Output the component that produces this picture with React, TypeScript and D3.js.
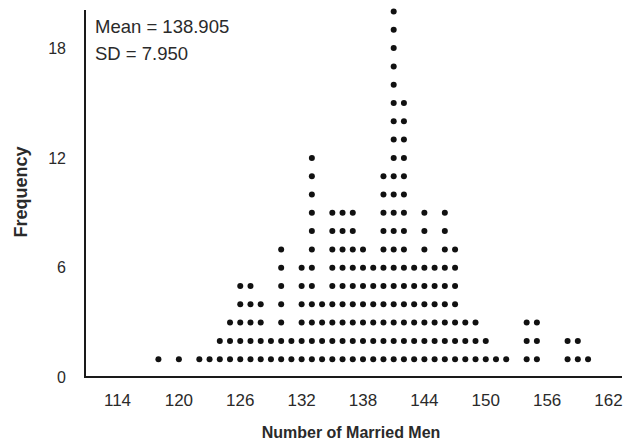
import React from "react";
import * as d3 from "d3";

// Number of married men (x) and frequency (count of dots) per value
const values = [118, 120, 122, 123, 124, 125, 126, 127, 128, 129, 130, 131, 132, 133, 134, 135, 136, 137, 138, 139, 140, 141, 142, 143, 144, 145, 146, 147, 148, 149, 150, 151, 152, 154, 155, 158, 159, 160];
const counts = [1, 1, 1, 1, 2, 3, 5, 5, 4, 2, 7, 2, 6, 12, 4, 9, 9, 9, 7, 6, 11, 20, 15, 6, 9, 6, 9, 7, 3, 3, 2, 1, 1, 3, 3, 2, 2, 1];
const xTicks = [114, 120, 126, 132, 138, 144, 150, 156, 162];
const yTicks = [0, 6, 12, 18];
const statLines = ["Mean = 138.905", "SD = 7.950"];

const W = 634;
const H = 443;

export default function App() {
  const x = d3.scaleLinear().domain([114, 162]).range([117.5, 608.5]);
  const y = d3.scaleLinear().domain([0, 20]).range([377.5, 11.5]);

  const dots: { v: number; k: number }[] = [];
  values.forEach((v, i) => {
    d3.range(1, counts[i] + 1).forEach((k) => dots.push({ v, k }));
  });

  const font = "'Liberation Sans', Arial, Helvetica, sans-serif";
  const textColor = "#2a2a2a";

  return (
    <div style={{ position: "absolute", left: 0, top: 0 }}>
      <svg width={W} height={H} style={{ display: "block", background: "#fff" }}>
        {/* axes */}
        <line x1={85} x2={85} y1={10} y2={378} stroke="#1a1a1a" strokeWidth={2} />
        <line x1={84} x2={622} y1={377} y2={377} stroke="#1a1a1a" strokeWidth={2} />

        {/* y tick labels */}
        {yTicks.map((t) => (
          <text
            key={"y" + t}
            x={66}
            y={y(t)}
            dy="0.36em"
            textAnchor="end"
            fontFamily={font}
            fontSize={16}
            fill={textColor}
          >
            {t}
          </text>
        ))}

        {/* x tick labels */}
        {xTicks.map((t) => (
          <text
            key={"x" + t}
            x={x(t)}
            y={405.5}
            textAnchor="middle"
            fontFamily={font}
            fontSize={17}
            fill={textColor}
          >
            {t}
          </text>
        ))}

        {/* dots */}
        {dots.map((d, i) => (
          <circle key={i} cx={x(d.v)} cy={y(d.k)} r={3} fill="#111" />
        ))}

        {/* stats */}
        {statLines.map((s, i) => (
          <text
            key={s}
            x={95}
            y={32.5 + i * 27}
            fontFamily={font}
            fontSize={18.5}
            fill={textColor}
          >
            {s}
          </text>
        ))}

        {/* axis titles */}
        <text
          transform={`translate(27,192) rotate(-90)`}
          textAnchor="middle"
          fontFamily={font}
          fontSize={18}
          fontWeight="bold"
          fill={textColor}
        >
          Frequency
        </text>
        <text
          x={351}
          y={438}
          textAnchor="middle"
          fontFamily={font}
          fontSize={16}
          fontWeight="bold"
          fill={textColor}
        >
          Number of Married Men
        </text>
      </svg>
    </div>
  );
}
